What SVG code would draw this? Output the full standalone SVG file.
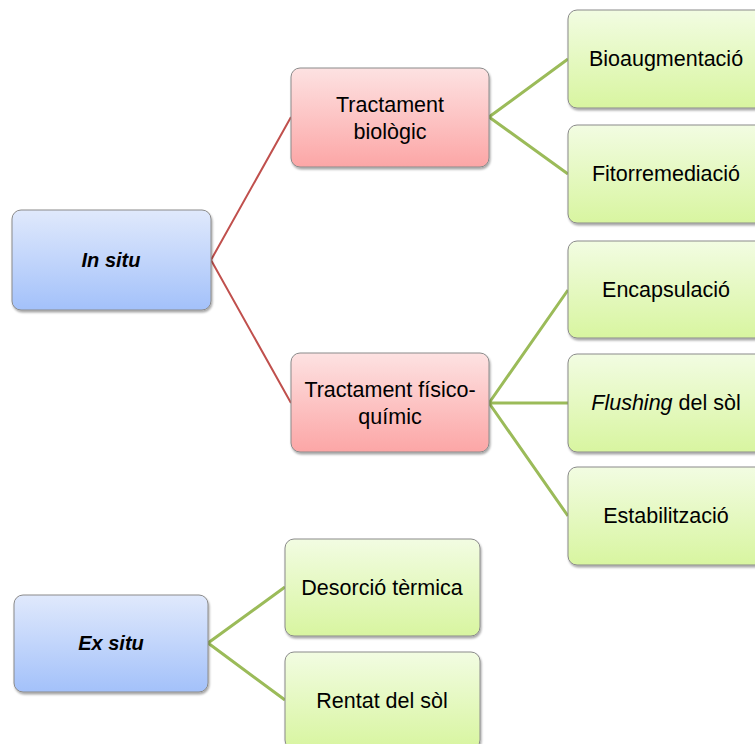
<svg xmlns="http://www.w3.org/2000/svg" width="755" height="744" viewBox="0 0 755 744">
  <defs>
    <linearGradient id="gBlue" x1="0" y1="0" x2="0" y2="1">
      <stop offset="0" stop-color="#e0e9fc"/>
      <stop offset="1" stop-color="#a3c1fa"/>
    </linearGradient>
    <linearGradient id="gRed" x1="0" y1="0" x2="0" y2="1">
      <stop offset="0" stop-color="#fde2e2"/>
      <stop offset="1" stop-color="#fca6a6"/>
    </linearGradient>
    <linearGradient id="gGreen" x1="0" y1="0" x2="0" y2="1">
      <stop offset="0" stop-color="#f2fce2"/>
      <stop offset="1" stop-color="#d8f5a0"/>
    </linearGradient>
    <filter id="shadow" x="-10%" y="-10%" width="120%" height="130%">
      <feDropShadow dx="1" dy="2" stdDeviation="1" flood-color="#000" flood-opacity="0.35"/>
    </filter>
  </defs>
  <style>
    .box { stroke: #8a8a8a; stroke-width: 1; filter: url(#shadow); }
    .blue { fill: url(#gBlue); }
    .red { fill: url(#gRed); }
    .green { fill: url(#gGreen); }
    text { font-family: "Liberation Sans", Arial, sans-serif; font-size: 21.5px; fill: #000; text-anchor: middle; }
    .bi { font-weight: bold; font-style: italic; font-size: 20px; }
    .it { font-style: italic; }
    .cRed { stroke: #c0504d; stroke-width: 2; fill: none; }
    .cGreen { stroke: #9bbb59; stroke-width: 3; fill: none; }
  </style>

  <rect width="755" height="744" fill="#fff"/>

  <g id="connectors">
    <path class="cRed" d="M211,260 L291,117 M211,260 L291,403"/>
    <path class="cGreen" d="M489,117 L568,59 M489,117 L568,174"/>
    <path class="cGreen" d="M489,403 L568,290 M489,403 L568,403 M489,403 L568,516"/>
    <path class="cGreen" d="M208,643 L285,587 M208,643 L285,700"/>
  </g>

  <g id="in-situ">
    <rect class="box blue" x="12" y="210" width="199" height="100" rx="9"/>
    <text class="bi" x="111" y="267">In situ</text>
  </g>

  <g id="tractament-biologic">
    <rect class="box red" x="291" y="68" width="198" height="99" rx="9"/>
    <text x="390" y="112">Tractament</text>
    <text x="390" y="139">biològic</text>
  </g>

  <g id="tractament-fisico-quimic">
    <rect class="box red" x="291" y="353" width="198" height="99" rx="9"/>
    <text x="390" y="397">Tractament físico-</text>
    <text x="390" y="424">químic</text>
  </g>

  <g id="bioaugmentacio">
    <rect class="box green" x="568" y="10" width="198" height="98" rx="9"/>
    <text x="666" y="66">Bioaugmentació</text>
  </g>

  <g id="fitorremediacio">
    <rect class="box green" x="568" y="125" width="198" height="98" rx="9"/>
    <text x="666" y="181">Fitorremediació</text>
  </g>

  <g id="encapsulacio">
    <rect class="box green" x="568" y="241" width="198" height="97" rx="9"/>
    <text x="666" y="297">Encapsulació</text>
  </g>

  <g id="flushing">
    <rect class="box green" x="568" y="354" width="198" height="98" rx="9"/>
    <text x="666" y="410"><tspan class="it">Flushing</tspan> del sòl</text>
  </g>

  <g id="estabilitzacio">
    <rect class="box green" x="568" y="467" width="198" height="98" rx="9"/>
    <text x="666" y="523">Estabilització</text>
  </g>

  <g id="ex-situ">
    <rect class="box blue" x="14" y="595" width="194" height="97" rx="9"/>
    <text class="bi" x="111" y="650">Ex situ</text>
  </g>

  <g id="desorcio-termica">
    <rect class="box green" x="285" y="539" width="195" height="97" rx="9"/>
    <text x="382" y="595">Desorció tèrmica</text>
  </g>

  <g id="rentat-del-sol">
    <rect class="box green" x="285" y="652" width="195" height="97" rx="9"/>
    <text x="382" y="708">Rentat del sòl</text>
  </g>
</svg>
